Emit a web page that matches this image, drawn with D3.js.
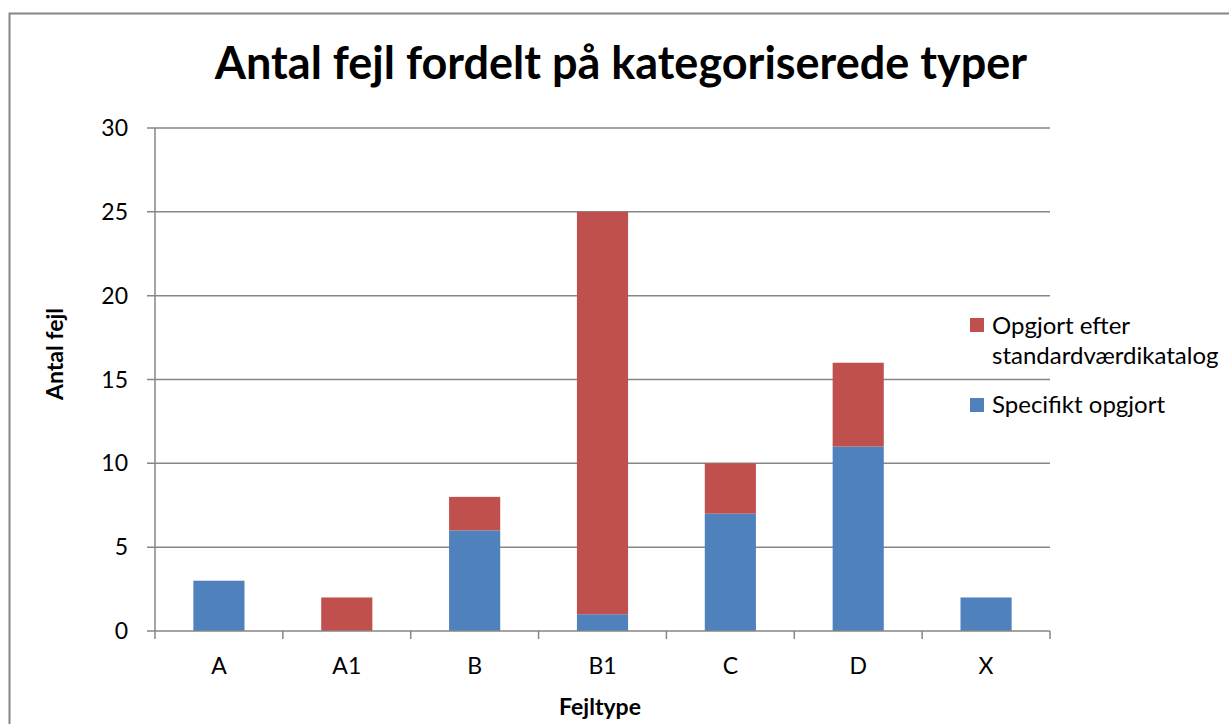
<html>
  <head>
    <title>Antal fejl fordelt på kategoriserede typer</title>
    <script type="text/javascript" src="https://d3js.org/d3.v7.min.js"></script>
    <style type="text/css">
      body { margin: 0; background: #fff; }
      text { font-family: Lato, "Open Sans", sans-serif; fill: #000; }
    </style>
  </head>
  <body>
    <script type="text/javascript">

      // data
      var categories = ["A", "A1", "B", "B1", "C", "D", "X"];
      var specifikt = [3, 0, 6, 1, 7, 11, 2];
      var standard = [0, 2, 2, 24, 3, 5, 0];
      var yTicks = [0, 5, 10, 15, 20, 25, 30];
      var seriesNames = ["Specifikt opgjort", "Opgjort efter standardværdikatalog"];
      var colors = ["#4f81bd", "#c0504d"];

      var w = 1229, h = 724;
      // plot area edges
      var pLeft = 155, pRight = 1050, pTop = 128, pBottom = 631;

      var svg = d3.select("body").append("svg")
        .attr("width", w).attr("height", h);

      // chart frame (runs off the right and bottom edge)
      svg.append("rect")
        .attr("x", 9.5).attr("y", 13.5)
        .attr("width", w + 20).attr("height", h + 20)
        .attr("fill", "none").attr("stroke", "#868686").attr("stroke-width", 2);

      var x = d3.scaleBand().domain(categories).range([pLeft, pRight]).paddingInner(0.6).paddingOuter(0.3);
      var xEdge = d3.scaleLinear().domain([0, categories.length]).range([pLeft, pRight]);
      var y = d3.scaleLinear().domain([0, 30]).range([pBottom, pTop]);

      // gridlines
      svg.append("g").selectAll("line").data(yTicks.slice(1)).enter().append("line")
        .attr("x1", pLeft - 8).attr("x2", pRight)
        .attr("y1", function(d) { return y(d); }).attr("y2", function(d) { return y(d); })
        .attr("stroke", "#868686").attr("stroke-width", 1.5);

      // stacked bars
      var stackData = categories.map(function(c, i) { return { cat: c, s0: specifikt[i], s1: standard[i] }; });
      var series = d3.stack().keys(["s0", "s1"])(stackData);
      svg.append("g").selectAll("g").data(series).enter().append("g")
        .attr("fill", function(d, i) { return colors[i]; })
        .selectAll("rect").data(function(d) { return d; }).enter().append("rect")
        .attr("x", function(d) { return x(d.data.cat); })
        .attr("width", x.bandwidth())
        .attr("y", function(d) { return y(d[1]); })
        .attr("height", function(d) { return y(d[0]) - y(d[1]); });

      // axis lines + ticks
      svg.append("line").attr("x1", pLeft).attr("x2", pLeft).attr("y1", pTop).attr("y2", pBottom + 8)
        .attr("stroke", "#868686").attr("stroke-width", 1.5);
      svg.append("line").attr("x1", pLeft - 8).attr("x2", pRight).attr("y1", pBottom).attr("y2", pBottom)
        .attr("stroke", "#868686").attr("stroke-width", 1.5);
      svg.append("g").selectAll("line").data(d3.range(1, categories.length + 1)).enter().append("line")
        .attr("x1", function(d) { return xEdge(d); }).attr("x2", function(d) { return xEdge(d); })
        .attr("y1", pBottom).attr("y2", pBottom + 8)
        .attr("stroke", "#868686").attr("stroke-width", 1.5);

      // y tick labels
      svg.append("g").selectAll("text").data(yTicks).enter().append("text")
        .attr("x", pLeft - 27).attr("y", function(d) { return y(d); })
        .attr("dy", "0.35em").attr("text-anchor", "end")
        .style("font-size", "23px")
        .text(function(d) { return d; });

      // x tick labels
      svg.append("g").selectAll("text").data(categories).enter().append("text")
        .attr("x", function(d) { return x(d) + x.bandwidth() / 2; }).attr("y", pBottom + 43)
        .attr("text-anchor", "middle")
        .style("font-size", "23px")
        .text(function(d) { return d; });

      // title
      svg.append("text").attr("x", 621).attr("y", 79).attr("text-anchor", "middle")
        .style("font-size", "45px").style("font-weight", "bold")
        .text("Antal fejl fordelt på kategoriserede typer");

      // axis titles
      svg.append("text").attr("x", 600).attr("y", 715).attr("text-anchor", "middle")
        .style("font-size", "23px").style("font-weight", "bold")
        .text("Fejltype");
      svg.append("text").attr("transform", "translate(63,354) rotate(-90)").attr("text-anchor", "middle")
        .style("font-size", "23px").style("font-weight", "bold")
        .text("Antal fejl");

      // legend
      var lg = svg.append("g");
      lg.append("rect").attr("x", 970).attr("y", 318).attr("width", 14).attr("height", 14).attr("fill", colors[1]);
      lg.append("text").attr("x", 992).attr("y", 334).style("font-size", "24px").text("Opgjort efter");
      lg.append("text").attr("x", 992).attr("y", 364).style("font-size", "24px").text("standardværdikatalog");
      lg.append("rect").attr("x", 970).attr("y", 398).attr("width", 14).attr("height", 14).attr("fill", colors[0]);
      lg.append("text").attr("x", 992).attr("y", 413).style("font-size", "24px").text(seriesNames[0]);
    </script>
  </body>
</html>
